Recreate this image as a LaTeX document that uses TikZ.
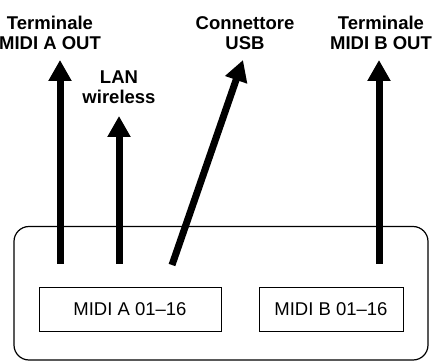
\documentclass[tikz,border=0pt]{standalone}
\usepackage{fontspec}
\setmainfont{Liberation Sans}
\usetikzlibrary{arrows.meta}
\begin{document}
\begin{tikzpicture}[x=1pt,y=-1pt,
  lbl/.style={font=\fontsize{18.5}{20.5}\selectfont\bfseries,align=center,inner sep=0pt},
  chbox/.style={draw,line width=0.9pt,minimum width=182pt,minimum height=44pt,inner sep=0pt,font=\fontsize{18.5}{20}\selectfont},
  bigarrow/.style={line width=7pt,-{Triangle[width=22pt,length=21pt]}}]
\useasboundingbox (0,0) rectangle (432,361);
\draw[line width=1.2pt,rounded corners=15pt] (14,226.5) rectangle (428,360) ;
\node[chbox] (mA) at (130,309) {MIDI A 01--16};
\node[chbox,minimum width=144pt] (mB) at (331,309) {MIDI B 01--16};
\node[lbl] (tA) at (50,33) {Terminale\\MIDI A OUT};
\node[lbl] (lan) at (119,87) {LAN\\wireless};
\node[lbl] (usb) at (245,33) {Connettore\\USB};
\node[lbl] (tB) at (381,33) {Terminale\\MIDI B OUT};
\coordinate (a0) at (60,264); \coordinate (a1) at (60,60);
\coordinate (l0) at (119,264); \coordinate (l1) at (119,116);
\coordinate (u0) at (172,265); \coordinate (u1) at (243,60);
\coordinate (b0) at (379,264); \coordinate (b1) at (379,60);
\draw[bigarrow] (a0) -- (a1);
\draw[bigarrow] (l0) -- (l1);
\draw[bigarrow] (u0) -- (u1);
\draw[bigarrow] (b0) -- (b1);
\end{tikzpicture}
\end{document}
